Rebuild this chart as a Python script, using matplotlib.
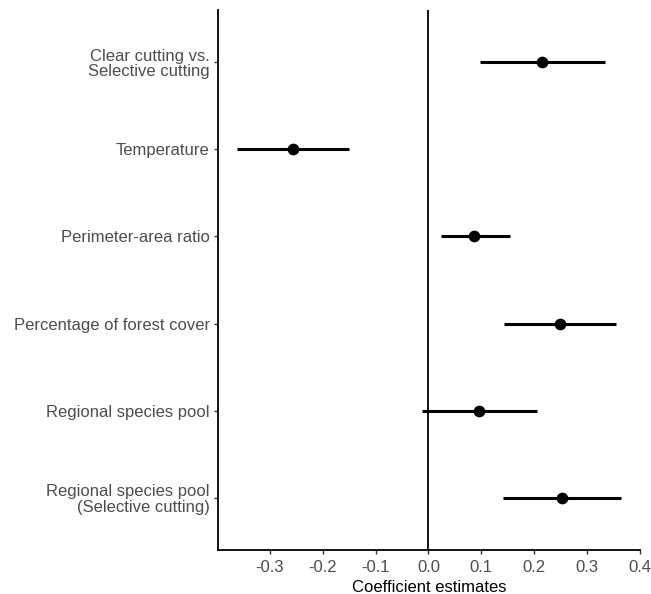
import numpy as np
import matplotlib.pyplot as plt

plt.rcParams['font.family'] = ['Liberation Sans', 'DejaVu Sans']

labels = ['Clear cutting vs.\nSelective cutting', 'Temperature', 'Perimeter-area ratio',
          'Percentage of forest cover', 'Regional species pool',
          'Regional species pool\n(Selective cutting)']
est = [0.215, -0.257, 0.087, 0.249, 0.096, 0.253]
lower = [0.098, -0.362, 0.023, 0.143, -0.013, 0.140]
upper = [0.333, -0.151, 0.155, 0.355, 0.206, 0.364]

ypos = np.arange(len(labels))[::-1] + 1

fig = plt.figure(figsize=(6.51, 5.94), dpi=100)
ax = fig.add_axes([218/651, 44/594, (640-218)/651, (550-10)/594])

ax.axvline(0, color='black', lw=1.3, zorder=1)
ax.hlines(ypos, lower, upper, color='black', lw=2.2, zorder=2)
ax.scatter(est, ypos, s=55, color='black', zorder=3)

ax.set_xlim(-0.398, 0.4)
ax.set_ylim(0.4, 6.6)
ax.set_xticks([-0.3, -0.2, -0.1, 0.0, 0.1, 0.2, 0.3, 0.4])
ax.set_xticklabels(['-0.3', '-0.2', '-0.1', '0.0', '0.1', '0.2', '0.3', '0.4'])
ax.set_yticks(ypos)
ax.set_yticklabels(labels, ha='right', linespacing=1.05)
ax.set_xlabel('Coefficient estimates', fontsize=12, color='black', labelpad=4)

for s in ['top', 'right']:
    ax.spines[s].set_visible(False)
for s in ['left', 'bottom']:
    ax.spines[s].set_linewidth(1.3)
ax.tick_params(axis='both', colors='#333333', labelcolor='#4D4D4D', labelsize=12,
               length=3, width=1)
ax.tick_params(axis='y', pad=3)
ax.tick_params(axis='x', pad=4)

fig.savefig('out.png', dpi=100)
